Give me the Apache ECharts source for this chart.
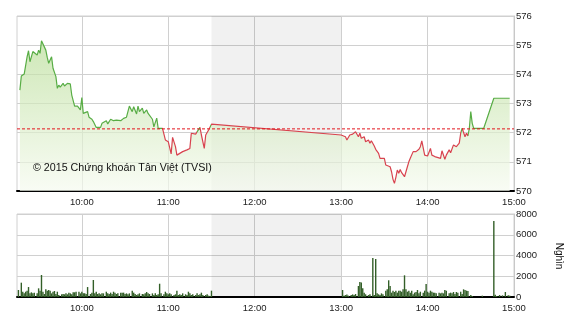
<!DOCTYPE html>
<html><head><meta charset="utf-8">
<script src="https://cdn.jsdelivr.net/npm/echarts@6/dist/echarts.min.js"></script>
<style>html,body{margin:0;padding:0;background:#fff}#c{width:570px;height:320px}</style>
</head><body><div id="c"></div>
<script>
// time in minutes of the day
const priceTimes = [557,558,560,562,563,564,566,567,569,570,571,572,573,575,576,577,579,580,582,583,584,585,587,588,590,592,593,595,596,597,599,600,601,602,604,605,607,608,610,611,613,614,615,617,618,620,621,622,624,627,629,631,632,633,635,636,638,639,640,642,643,645,646,647,649,650,652,653,654,656,657,658,660,662,663,665,666,668,670,673,675,676,679,680,682,683,685,686,688,689,690,
780,783,784,785,786,788,789,790,792,793,794,796,797,799,800,801,803,804,806,807,808,810,811,812,814,815,816,817,818,819,820,821,822,824,825,826,827,828,830,831,832,834,835,836,838,840,842,843,845,849,850,852,853,855,856,858,860,861,862,863,864,866,867,868,869,870,871,872,879,886,897];
const priceValues = [573.46,573.94,574.01,574.60,574.81,574.43,574.78,574.81,574.66,574.83,574.72,575.15,575.12,574.83,574.58,574.38,574.60,574.21,573.92,573.52,573.63,573.56,573.69,573.60,573.69,573.67,573.29,572.91,572.87,572.91,572.78,573.20,572.66,572.61,572.72,572.53,572.46,572.38,572.18,572.23,572.18,572.32,572.26,572.41,572.30,572.46,572.41,572.41,572.43,572.41,572.49,572.53,572.49,572.91,572.72,572.89,572.64,572.91,572.72,572.84,572.66,572.78,572.66,572.61,572.46,572.20,572.50,572.15,572.18,572.15,572.09,571.75,571.69,571.27,571.84,571.52,571.23,571.29,571.35,571.41,571.46,571.98,571.95,572.00,572.18,571.92,571.46,571.92,572.09,572.03,572.29,
571.92,571.86,571.75,571.72,571.92,571.95,571.92,572.03,571.86,571.98,571.81,571.86,571.69,571.75,571.64,571.72,571.54,571.43,571.29,571.12,571.16,571.12,570.89,570.86,570.83,570.66,570.40,570.26,570.47,570.72,570.61,570.74,570.63,570.49,570.49,570.83,571.00,571.12,571.35,571.38,571.35,571.43,571.52,571.72,571.23,571.20,571.46,571.23,571.18,571.12,571.38,571.09,571.23,571.41,571.31,571.58,571.52,571.46,571.64,571.98,572.15,571.86,571.98,571.89,572.15,572.72,572.32,572.15,572.15,573.18,573.18];
const refPrice = 572.13;

const volTimes = [556,558,559,560,561,562,563,564,565,566,567,569,570,571,572,573,574,575,576,577,578,579,580,581,582,583,584,586,587,588,589,590,591,592,593,594,595,596,598,599,600,601,602,603,604,606,607,608,609,610,611,612,613,614,615,617,618,619,620,621,622,623,624,625,627,628,629,630,631,632,633,635,636,637,638,639,640,642,643,644,645,646,647,649,650,651,652,653,654,655,657,658,659,660,661,662,664,665,666,667,668,669,670,672,673,674,675,676,677,679,680,681,682,683,684,686,687,688,689,690,
781,782,783,784,785,787,788,789,790,792,793,794,795,796,797,799,800,802,803,804,805,806,807,808,809,811,812,813,814,815,816,817,818,819,820,821,822,823,824,825,826,827,828,829,830,831,832,833,834,835,837,838,839,840,841,842,843,844,845,846,848,849,850,851,852,853,855,856,857,858,859,860,861,863,864,865,866,867,868,870,871,878,886,887,888,890,892,894,896,897];
const volValues = [675,1380,510,350,510,610,960,350,450,350,420,350,835,610,2120,510,290,740,610,675,610,350,510,580,290,510,190,260,290,260,350,260,420,350,260,450,450,510,510,350,510,350,350,290,960,290,420,1640,350,510,290,350,260,350,350,510,350,290,420,290,510,420,290,350,420,420,420,290,350,260,350,610,420,290,190,260,350,290,260,350,480,350,290,350,190,350,190,260,1280,350,260,510,350,260,350,260,190,260,610,190,260,190,350,260,190,510,350,190,260,190,350,190,260,417,190,190,260,128,96,610,
675,130,190,250,130,190,250,190,290,1060,1450,1400,835,420,260,190,260,3760,190,3660,350,260,190,350,260,610,740,1610,1060,420,610,480,610,420,610,610,510,740,2090,740,510,610,420,610,260,420,480,675,350,510,420,610,1250,510,420,610,510,420,420,350,420,350,420,350,675,610,350,420,350,480,290,480,420,510,290,740,675,610,580,190,100,130,7320,225,96,190,160,480,160,130];

const sessionRange = [555,900];
const hourTicks = [600,660,720,780,840,900];
const lunchBreak = [690,780];
const priceAxis = {min:570, max:576, step:1};
const volAxis = {min:0, max:8000, step:2000};

const GREEN = '#58ad45', RED = '#d8434f', REFC = '#e3141c';
const pieces = [];
for (let i = 1; i < priceTimes.length; i++) {
  const c = priceValues[i] < refPrice ? RED : GREEN;
  const last = pieces[pieces.length - 1];
  if (last && last.color === c) last.lte = priceTimes[i];
  else pieces.push({gt: priceTimes[i-1], lte: priceTimes[i], color: c});
}
pieces[0].gt = 0;
pieces[pieces.length-1].lte = 2000;

const FONT = '"Liberation Sans", Arial, sans-serif';
const fmt = v => Math.floor(v/60) + ':' + String(v%60).padStart(2,'0');
function xAxisCfg(gi){
  return {type:'value', gridIndex:gi, min:sessionRange[0], max:sessionRange[1],
    axisLine:{show:true,onZero:false,lineStyle:{color:'#000',width:2}},
    axisTick:{show:false, customValues:hourTicks},
    axisLabel:{customValues:hourTicks, formatter:fmt, fontSize:9.5, color:'#222', fontFamily:FONT, margin:6},
    splitLine:{show:true,lineStyle:{color:'#d0d0d0'}}};
}
function yAxisCfg(gi, a){
  return {type:'value', gridIndex:gi, position:'right', min:a.min, max:a.max, interval:a.step,
    axisLine:{show:true,lineStyle:{color:'#c8c8c8'}},
    axisTick:{show:false},
    axisLabel:{fontSize:9.5, color:'#222', fontFamily:FONT, margin:2, formatter: v => String(v)},
    splitLine:{show:true,lineStyle:{color:'#d0d0d0'}}};
}
const lunchArea = {silent:true, itemStyle:{color:'rgba(0,0,0,0.055)'}, data:[[{xAxis:lunchBreak[0]},{xAxis:lunchBreak[1]}]]};

const chart = echarts.init(document.getElementById('c'), null, {renderer:'canvas'});
chart.setOption({
  animation:false,
  grid:[
    {left:17, top:16, width:497, height:175, show:true, borderColor:'#d0d0d0', borderWidth:1},
    {left:17, top:214, width:497, height:83, show:true, borderColor:'#d0d0d0', borderWidth:1}
  ],
  xAxis:[xAxisCfg(0), xAxisCfg(1)],
  yAxis:[yAxisCfg(0, priceAxis), yAxisCfg(1, volAxis)],
  visualMap:{type:'piecewise', show:false, dimension:0, seriesIndex:0, pieces:pieces},
  series:[
    {type:'line', xAxisIndex:0, yAxisIndex:0, showSymbol:false, symbol:'none', z:3,
     data: priceTimes.map((t,i)=>[t, priceValues[i]]),
     lineStyle:{width:1.2},
     areaStyle:{origin:'start', color:new echarts.graphic.LinearGradient(0,0,0,1,[{offset:0,color:'#b9dd98'},{offset:1,color:'#f5faef'}])}
    },
    {type:'bar', xAxisIndex:1, yAxisIndex:1, barWidth:1.4,
     itemStyle:{color:'#335f28'},
     data: volTimes.map((t,i)=>[t, volValues[i]]),
     markArea: lunchArea},
    {type:'line', xAxisIndex:0, yAxisIndex:0, data:[], z:1, markArea: lunchArea},
    {type:'line', xAxisIndex:0, yAxisIndex:0, z:5, showSymbol:false, symbol:'none', silent:true,
     data: sessionRange.map(t => [t, refPrice]),
     itemStyle:{color: REFC},
     lineStyle:{color: REFC, type:[3,2], width:1}}
  ],
  graphic:[
    {type:'text', z:100, left:33, top:163, style:{text:'© 2015 Chứng khoán Tân Việt (TVSI)', font:'10.7px ' + FONT, fill:'#111'}},
    {type:'text', z:100, x:559, y:256, rotation:-Math.PI/2, style:{text:'Nghìn', font:'10px ' + FONT, fill:'#111', align:'center', verticalAlign:'middle'}}
  ]
});
</script></body></html>
